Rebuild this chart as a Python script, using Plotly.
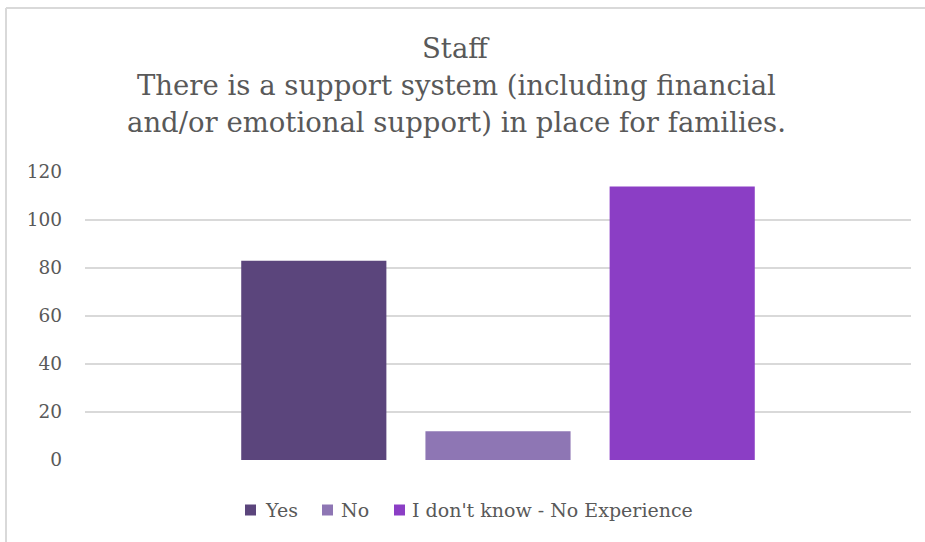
import plotly.graph_objects as go

# Survey responses (staff)
categories = ["Yes", "No", "I don't know - No Experience"]
counts = [83, 12, 114]
colors = ["#5B457C", "#8E76B4", "#8B3EC5"]
y_ticks = [0, 20, 40, 60, 80, 100, 120]
title_lines = [
    "Staff",
    "There is a support system (including financial",
    "and/or emotional support) in place for families.",
]

W, H = 925, 542
ML, MR, MT, MB = 85, 14, 172, 82
pw, ph = W - ML - MR, H - MT - MB

FONT = "DejaVu Serif"
GREY = "#595959"


def px_x(x):
    """pixel column -> paper x"""
    return (x - ML) / pw


def px_y(y):
    """pixel row -> paper y"""
    return (MT + ph - y) / ph


fig = go.Figure()
for name, val, col in zip(categories, counts, colors):
    fig.add_trace(go.Bar(
        x=["Responses"], y=[val], name=name, showlegend=False,
        marker=dict(color=col, line=dict(width=0)),
    ))

fig.update_layout(
    width=W, height=H,
    margin=dict(l=ML, r=MR, t=MT, b=MB),
    paper_bgcolor="white", plot_bgcolor="white",
    barmode="group", bargap=0.331, bargroupgap=0.212,
    font=dict(family=FONT, color=GREY),
    xaxis=dict(showticklabels=False, showgrid=False, zeroline=False,
               showline=False, ticks=""),
    yaxis=dict(range=[0, 120], tickvals=y_ticks, showgrid=True,
               gridcolor="#D9D9D9", gridwidth=1.5, zeroline=False,
               showline=False, ticks="", ticklabelstandoff=22,
               tickfont=dict(family=FONT, size=18.5, color=GREY)),
    showlegend=False,
)

# multi-line chart title
for i, line in enumerate(title_lines):
    fig.add_annotation(
        text=line, xref="paper", yref="paper",
        x=px_x(456), y=px_y(48 + 37 * i),
        xanchor="center", yanchor="middle", showarrow=False,
        font=dict(family=FONT, size=27.5, color=GREY),
    )

# legend along the bottom
square_x = [245, 322, 394]
label_x = [263, 339, 410]
for name, col, sx, lx in zip(categories, colors, square_x, label_x):
    fig.add_shape(type="rect", xref="paper", yref="paper",
                  x0=px_x(sx), x1=px_x(sx + 11), y0=px_y(504.5), y1=px_y(515.5),
                  fillcolor=col, line=dict(width=0))
    fig.add_annotation(text=name, xref="paper", yref="paper",
                       x=px_x(lx), y=px_y(510), xanchor="left",
                       yanchor="middle", showarrow=False,
                       font=dict(family=FONT, size=19, color=GREY))

# chart-area border (top and left edges)
top_y = px_y(8)
left_x = px_x(6)
fig.add_shape(type="line", xref="paper", yref="paper",
              x0=left_x, x1=px_x(W + 2), y0=top_y, y1=top_y,
              line=dict(color="#D9D9D9", width=2))
fig.add_shape(type="line", xref="paper", yref="paper",
              x0=left_x, x1=left_x, y0=top_y, y1=px_y(H + 2),
              line=dict(color="#D9D9D9", width=2))

fig.write_html("out.html")
